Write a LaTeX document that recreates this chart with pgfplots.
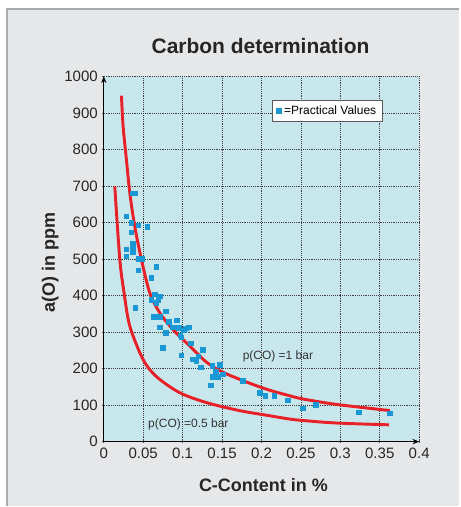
\documentclass[border=0pt]{standalone}
\usepackage{pgfplots}
\pgfplotsset{compat=1.18}
\usepackage{fontspec}
\setmainfont{Liberation Sans}
\usetikzlibrary{arrows.meta}
\definecolor{panel}{RGB}{230,231,233}
\definecolor{bordercol}{RGB}{168,170,172}
\definecolor{plotbg}{RGB}{200,231,236}
\definecolor{pointblue}{RGB}{26,152,214}
\definecolor{curvered}{RGB}{232,32,40}

\pgfplotstableread{
x y
0.036 680
0.039 680
0.0287 617
0.035 599
0.0435 592
0.0553 588
0.035 573
0.0367 541
0.0367 535
0.0287 526
0.0367 520
0.0287 507
0.0435 501
0.049 501
0.0667 478
0.0435 469
0.0603 449
0.0646 403
0.0709 398
0.0603 389
0.0688 389
0.0667 380
0.0401 367
0.0785 357
0.0637 342
0.0709 342
0.0823 328
0.0928 332
0.0709 313
0.0877 313
0.0953 312
0.1038 310
0.108 313
0.1013 305
0.0785 298
0.097 291
0.0983 286
0.110 269
0.0751 257
0.0983 236
0.120 234
0.1257 251
0.113 225
0.117 221
0.1228 203
0.1376 207
0.147 211
0.1418 193
0.1384 178
0.1447 178
0.151 184
0.1354 154
0.1763 166
0.1975 134
0.2047 125
0.2165 125
0.2333 113
0.2523 91
0.269 101
0.3232 80
0.363 77
}\practical

\pgfplotstableread{
x y
0.0224 947
0.0245 863
0.0287 772
0.033 681
0.0392 590
0.0477 499
0.0582 408
0.0709 353
0.0877 307
0.1089 262
0.13 218
0.151 190
0.1848 160
0.21 141
0.235 126
0.252 117
0.2945 102
0.363 85
}\onebar

\pgfplotstableread{
x y
0.0139 699
0.0203 499
0.0257 408
0.033 316
0.0498 225
0.0667 178
0.0962 134
0.13 107
0.172 85
0.21 71
0.235 62
0.252 58
0.2945 51
0.362 46
}\halfbar

\begin{document}
\begin{tikzpicture}[x=0.75pt,y=0.75pt]
\fill[white] (0,0) rectangle (460,507);
\fill[panel] (7,0) rectangle (460,498);
\draw[bordercol,line width=1.5pt] (7.5,0) -- (7.5,497.5) -- (460,497.5);
\begin{axis}[
  at={(78pt,48.375pt)}, anchor=south west,
  scale only axis, width=237pt, height=274.5pt,
  xmin=0, xmax=0.4, ymin=0, ymax=1000,
  xtick={0,0.05,0.1,0.15,0.2,0.25,0.3,0.35,0.4},
  xticklabels={0,0.05,0.1,0.15,0.2,0.25,0.3,0.35,0.4},
  ytick={0,100,200,300,400,500,600,700,800,900,1000},
  yticklabels={0,100,200,300,400,500,600,700,800,900,1000},
  scaled x ticks=false,
  /pgf/number format/assume math mode=true,
  /pgf/number format/1000 sep={},
  axis lines=left,
  axis line style={black, line width=0.9pt, -{Stealth[length=5pt,width=4pt]}},
  grid=major,
  major grid style={densely dotted, black!75, line width=0.5pt},
  major tick length=2pt,
  tick style={black!70, line width=0.5pt},
  axis background/.style={fill=plotbg},
  tick label style={font=\fontsize{11.3}{12.5}\selectfont, text=black!85},
  title={Carbon determination},
  title style={font=\bfseries\fontsize{15.75}{18}\selectfont, text=black!85, at={(axis description cs:0.497,1.061)}, anchor=center},
  xlabel={C-Content in \%},
  xlabel style={font=\bfseries\fontsize{13.5}{15}\selectfont, text=black!85, at={(axis description cs:0.506,-0.119)}, anchor=center},
  legend style={at={(axis description cs:0.532,0.936)}, anchor=north west, draw=black!65, line width=0.8pt, fill=white, font=\fontsize{9}{10}\selectfont, inner xsep=3pt, inner ysep=2pt},
  legend cell align=left,
  legend image code/.code={\fill[pointblue] (0pt,-1.65pt) rectangle (3.3pt,1.65pt);},
  clip=false,
]
\addplot[only marks, mark=square*, mark size=1.7pt, color=pointblue] table[x=x,y=y] {\practical};
\addlegendentry{=Practical Values}
\addplot[curvered, line width=2.2pt, smooth, forget plot] table[x=x,y=y] {\onebar};
\addplot[curvered, line width=2.2pt, smooth, forget plot] table[x=x,y=y] {\halfbar};
\node[anchor=west, inner sep=0pt, font=\fontsize{9}{10}\selectfont, text=black!80] at (axis cs:0.176,234) {p(CO) =1 bar};
\node[anchor=west, inner sep=0pt, font=\fontsize{9}{10}\selectfont, text=black!80] at (axis cs:0.056,48) {p(CO) =0.5 bar};
\node[rotate=90, anchor=center, font=\bfseries\fontsize{13.5}{15}\selectfont, text=black!85] at (axis description cs:-0.17,0.49) {a(O) in ppm};
\end{axis}
\end{tikzpicture}
\end{document}
